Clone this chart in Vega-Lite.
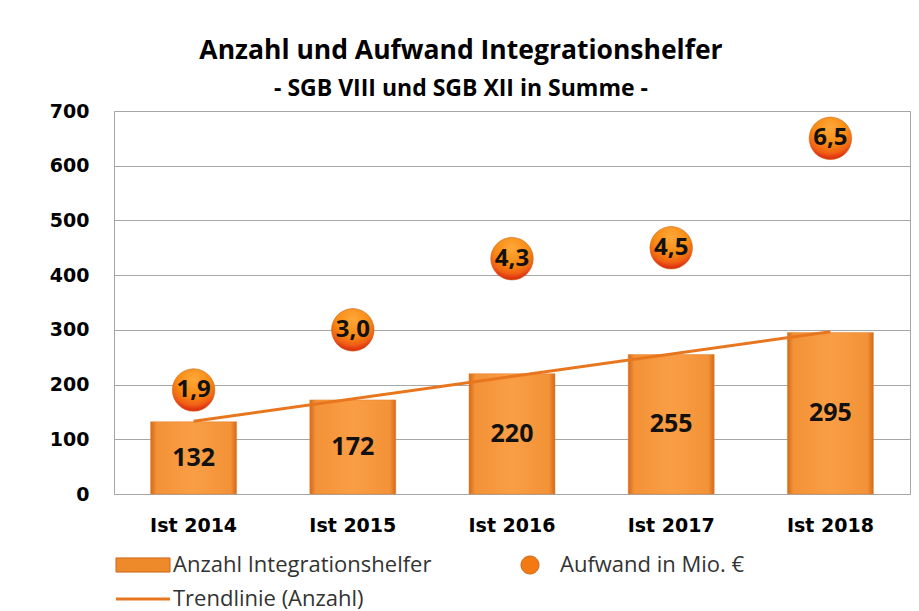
{
  "$schema": "https://vega.github.io/schema/vega-lite/v6.json",
  "width": 796,
  "height": 383,
  "autosize": {"type": "none"},
  "padding": {"left": 114, "top": 111, "right": 9, "bottom": 117},
  "background": "white",
  "config": {
    "locale": {"number": {"decimal": ",", "thousands": ".", "grouping": [3], "currency": ["", " €"]}},
    "view": {"stroke": "#A6A6A6", "strokeWidth": 1},
    "font": "Open Sans"
  },
  "title": {
    "text": "Anzahl und Aufwand Integrationshelfer",
    "subtitle": "- SGB VIII und SGB XII in Summe -",
    "anchor": "middle",
    "frame": "group",
    "dx": -51,
    "offset": 1,
    "font": "Open Sans",
    "fontSize": 26.5,
    "fontWeight": "bold",
    "color": "#000000",
    "subtitleFont": "Open Sans",
    "subtitleFontSize": 23,
    "subtitleFontWeight": "bold",
    "subtitleColor": "#000000",
    "subtitlePadding": 14
  },
  "datasets": {
    "haupt": [
      {"jahr": "Ist 2014", "anzahl": 132, "aufwand": 1.9},
      {"jahr": "Ist 2015", "anzahl": 172, "aufwand": 3.0},
      {"jahr": "Ist 2016", "anzahl": 220, "aufwand": 4.3},
      {"jahr": "Ist 2017", "anzahl": 255, "aufwand": 4.5},
      {"jahr": "Ist 2018", "anzahl": 295, "aufwand": 6.5}
    ],
    "trend": [
      {"jahr": "Ist 2014", "trend": 133},
      {"jahr": "Ist 2018", "trend": 296.6}
    ],
    "legende": [
      {"serie": "Anzahl Integrationshelfer"},
      {"serie": "Aufwand in Mio. €"},
      {"serie": "Trendlinie (Anzahl)"}
    ]
  },
  "layer": [
    {
      "layer": [
        {
          "data": {"name": "haupt"},
          "mark": {
            "type": "bar",
            "color": {
              "gradient": "linear", "x1": 0, "y1": 0, "x2": 1, "y2": 0,
              "stops": [
                {"offset": 0, "color": "#D4691A"},
                {"offset": 0.07, "color": "#F39237"},
                {"offset": 0.5, "color": "#FA9E45"},
                {"offset": 0.93, "color": "#F39237"},
                {"offset": 1, "color": "#D4691A"}
              ]
            },
            "stroke": "#E08030",
            "strokeWidth": 0.5
          },
          "encoding": {
            "x": {
              "field": "jahr", "type": "nominal", "sort": null,
              "scale": {"domain": ["Ist 2014", "Ist 2015", "Ist 2016", "Ist 2017", "Ist 2018"], "paddingInner": 0.46, "paddingOuter": 0.23},
              "axis": {"title": null, "labelAngle": 0, "labelFont": "DejaVu Sans", "labelFontSize": 19, "labelFontWeight": "bold", "labelColor": "#000000", "labelPadding": 22, "ticks": false, "domain": false, "grid": false}
            },
            "y": {
              "field": "anzahl", "type": "quantitative",
              "scale": {"domain": [0, 700], "nice": false},
              "axis": {"title": null, "values": [0, 100, 200, 300, 400, 500, 600, 700], "labelFont": "DejaVu Sans", "labelFontSize": 19, "labelFontWeight": "bold", "labelColor": "#000000", "labelPadding": 25, "ticks": false, "domain": false, "grid": true, "gridColor": "#A6A6A6", "gridWidth": 1}
            }
          }
        },
        {
          "data": {"name": "haupt"},
          "transform": [{"calculate": "datum.anzahl / 2", "as": "mitte"}],
          "mark": {"type": "text", "font": "Open Sans", "fontSize": 25, "fontWeight": "bold", "color": "#111111", "baseline": "middle", "align": "center"},
          "encoding": {
            "x": {"field": "jahr", "type": "nominal", "sort": null},
            "y": {"field": "mitte", "type": "quantitative"},
            "text": {"field": "anzahl", "type": "quantitative", "format": "d"}
          }
        },
        {
          "data": {"name": "trend"},
          "mark": {"type": "line", "color": "#E8761E", "strokeWidth": 3},
          "encoding": {
            "x": {"field": "jahr", "type": "nominal", "sort": null},
            "y": {"field": "trend", "type": "quantitative"}
          }
        }
      ]
    },
    {
      "data": {"name": "haupt"},
      "layer": [
        {
          "mark": {
            "type": "point", "filled": true, "shape": "circle", "size": 1810, "opacity": 1,
            "color": {
              "gradient": "radial", "x1": 0.5, "y1": 0.25, "r1": 0, "x2": 0.5, "y2": 0.25, "r2": 0.8,
              "stops": [
                {"offset": 0, "color": "#FFA83A"},
                {"offset": 0.5, "color": "#F88A12"},
                {"offset": 0.75, "color": "#F06015"},
                {"offset": 0.9, "color": "#DE2E12"},
                {"offset": 1, "color": "#C09020"}
              ]
            },
            "stroke": "#C05A10",
            "strokeWidth": 0.5
          },
          "encoding": {
            "x": {"field": "jahr", "type": "nominal", "sort": null},
            "y": {"field": "aufwand", "type": "quantitative", "scale": {"domain": [0, 7], "nice": false}, "axis": null}
          }
        },
        {
          "mark": {"type": "text", "font": "Open Sans", "fontSize": 24, "fontWeight": "bold", "color": "#111111", "baseline": "middle", "align": "center"},
          "encoding": {
            "x": {"field": "jahr", "type": "nominal", "sort": null},
            "y": {"field": "aufwand", "type": "quantitative", "scale": {"domain": [0, 7], "nice": false}, "axis": null},
            "text": {"field": "aufwand", "type": "quantitative", "format": ".1f"}
          }
        }
      ]
    },
    {
      "data": {"name": "legende"},
      "mark": {"type": "point", "filled": true, "opacity": 0},
      "encoding": {
        "color": {
          "field": "serie", "type": "nominal",
          "scale": {"domain": ["Anzahl Integrationshelfer", "Aufwand in Mio. €", "Trendlinie (Anzahl)"], "range": ["#EE8A2A", "#F37A12", "#E8761E"]},
          "legend": {
            "title": null, "orient": "none", "legendX": 18, "legendY": 443,
            "direction": "horizontal", "columns": 2, "columnPadding": 87, "rowPadding": 12, "padding": 0,
            "symbolSize": 900, "symbolOpacity": 1,
            "labelFont": "Open Sans", "labelFontSize": 22, "labelColor": "#333333", "labelOffset": 19, "labelLimit": 0,
            "encode": {
              "symbols": {
                "update": {
                  "opacity": {"value": 1},
                  "shape": {"signal": "datum.value === 'Anzahl Integrationshelfer' ? 'M-1.8,-0.47H1.8V0.47H-1.8Z' : datum.value === 'Trendlinie (Anzahl)' ? 'M-1.8,0H1.8' : 'M0.6,0A0.6,0.6,0,1,1,-0.6,0A0.6,0.6,0,1,1,0.6,0Z'"},
                  "fill": {"signal": "datum.value === 'Trendlinie (Anzahl)' ? 'transparent' : scale('color', datum.value)"},
                  "stroke": {"signal": "datum.value === 'Trendlinie (Anzahl)' ? '#E8761E' : '#C8661A'"},
                  "strokeWidth": {"signal": "datum.value === 'Trendlinie (Anzahl)' ? 3 : 1"}
                }
              }
            }
          }
        }
      }
    }
  ],
  "resolve": {"scale": {"y": "independent"}}
}
